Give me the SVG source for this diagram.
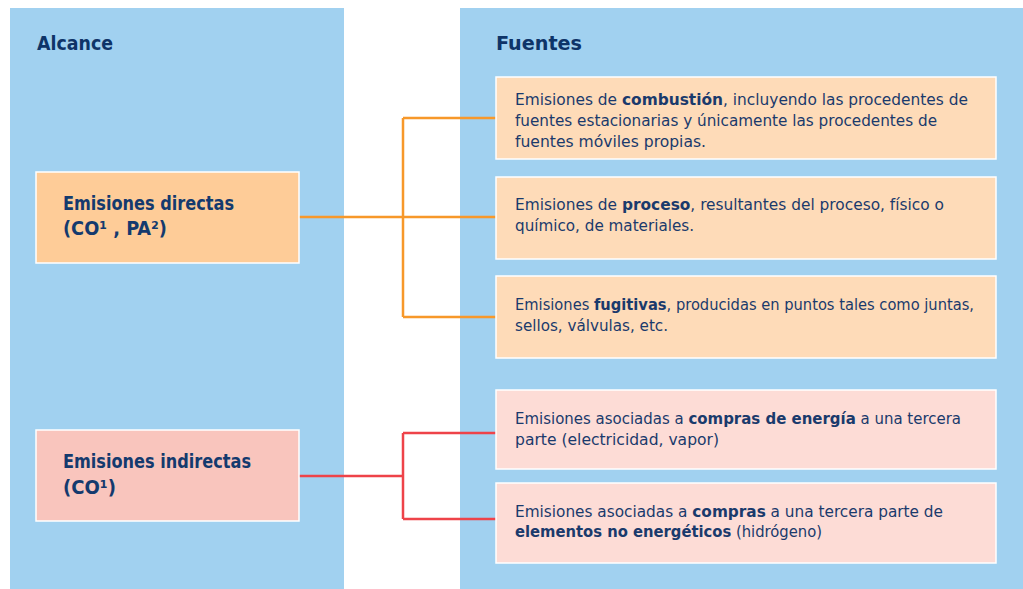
<svg xmlns="http://www.w3.org/2000/svg" width="1023" height="589" viewBox="0 0 1023 589">
<style>
.panel{fill:#a1d1f0}
.box{stroke:#ffffff;stroke-width:1.5}
.dir{fill:#fecc98}
.dirs{fill:#fedbb8}
.ind{fill:#f9c5bd}
.inds{fill:#fddcd6}
.title{font-family:"DejaVu Sans Condensed","DejaVu Sans",sans-serif;font-weight:bold;font-size:20px;fill:#0e3468}
.lab{font-family:"DejaVu Sans Condensed","DejaVu Sans",sans-serif;font-size:19px;fill:#143a6e;font-weight:bold}
.t{font-family:"DejaVu Sans Condensed","DejaVu Sans",sans-serif;font-size:15.8px;fill:#1a3a6c}
.b{font-weight:bold}
.or{stroke:#f7982a;stroke-width:2.5;fill:none}
.rd{stroke:#ee4349;stroke-width:2.5;fill:none}
</style>
<rect x="0" y="0" width="1023" height="589" fill="#ffffff"/>
<g id="panel-alcance">
<rect class="panel" x="10" y="8" width="334" height="581"/>
<text class="title" x="37" y="49.5" textLength="76" lengthAdjust="spacingAndGlyphs">Alcance</text>
</g>
<g id="panel-fuentes">
<rect class="panel" x="460" y="8" width="563" height="581"/>
<text class="title" x="496" y="49.5" textLength="86" lengthAdjust="spacingAndGlyphs">Fuentes</text>
</g>
<g id="connectors">
<path class="or" d="M299 217 H496 M403 118 V317 M403 118 H496 M403 317 H496"/>
<path class="rd" d="M299 476 H403 M403 433 V519 M403 433 H496 M403 519 H496"/>
</g>
<g id="node-directas">
<rect class="box dir" x="36" y="172" width="263" height="91"/>
<text class="lab" x="63" y="209.5" textLength="171" lengthAdjust="spacingAndGlyphs">Emisiones directas</text>
<text class="lab" x="63" y="235" textLength="104" lengthAdjust="spacingAndGlyphs">(CO¹ , PA²)</text>
</g>
<g id="node-indirectas">
<rect class="box ind" x="36" y="430" width="263" height="91"/>
<text class="lab" x="63" y="468" textLength="188" lengthAdjust="spacingAndGlyphs">Emisiones indirectas</text>
<text class="lab" x="63" y="494" textLength="53" lengthAdjust="spacingAndGlyphs">(CO¹)</text>
</g>
<g id="node-combustion">
<rect class="box dirs" x="496" y="77" width="500" height="82"/>
<text class="t" x="515" y="105" textLength="453" lengthAdjust="spacingAndGlyphs">Emisiones de <tspan class="b">combustión</tspan>, incluyendo las procedentes de</text>
<text class="t" x="515" y="126" textLength="422" lengthAdjust="spacingAndGlyphs">fuentes estacionarias y únicamente las procedentes de</text>
<text class="t" x="515" y="147" textLength="191" lengthAdjust="spacingAndGlyphs">fuentes móviles propias.</text>
</g>
<g id="node-proceso">
<rect class="box dirs" x="496" y="177" width="500" height="82"/>
<text class="t" x="515" y="209.5" textLength="429" lengthAdjust="spacingAndGlyphs">Emisiones de <tspan class="b">proceso</tspan>, resultantes del proceso, físico o</text>
<text class="t" x="515" y="231" textLength="179" lengthAdjust="spacingAndGlyphs">químico, de materiales.</text>
</g>
<g id="node-fugitivas">
<rect class="box dirs" x="496" y="276" width="500" height="82"/>
<text class="t" x="515" y="309.5" textLength="459" lengthAdjust="spacingAndGlyphs">Emisiones <tspan class="b">fugitivas</tspan>, producidas en puntos tales como juntas,</text>
<text class="t" x="515" y="330.5" textLength="153" lengthAdjust="spacingAndGlyphs">sellos, válvulas, etc.</text>
</g>
<g id="node-energia">
<rect class="box inds" x="496" y="390" width="500" height="79"/>
<text class="t" x="515" y="423.5" textLength="446" lengthAdjust="spacingAndGlyphs">Emisiones asociadas a <tspan class="b">compras de energía</tspan> a una tercera</text>
<text class="t" x="515" y="444.5" textLength="204" lengthAdjust="spacingAndGlyphs">parte (electricidad, vapor)</text>
</g>
<g id="node-no-energeticos">
<rect class="box inds" x="496" y="483" width="500" height="80"/>
<text class="t" x="515" y="516.5" textLength="428" lengthAdjust="spacingAndGlyphs">Emisiones asociadas a <tspan class="b">compras</tspan> a una tercera parte de</text>
<text class="t" x="515" y="537" textLength="307" lengthAdjust="spacingAndGlyphs"><tspan class="b">elementos no energéticos</tspan> (hidrógeno)</text>
</g>
</svg>
